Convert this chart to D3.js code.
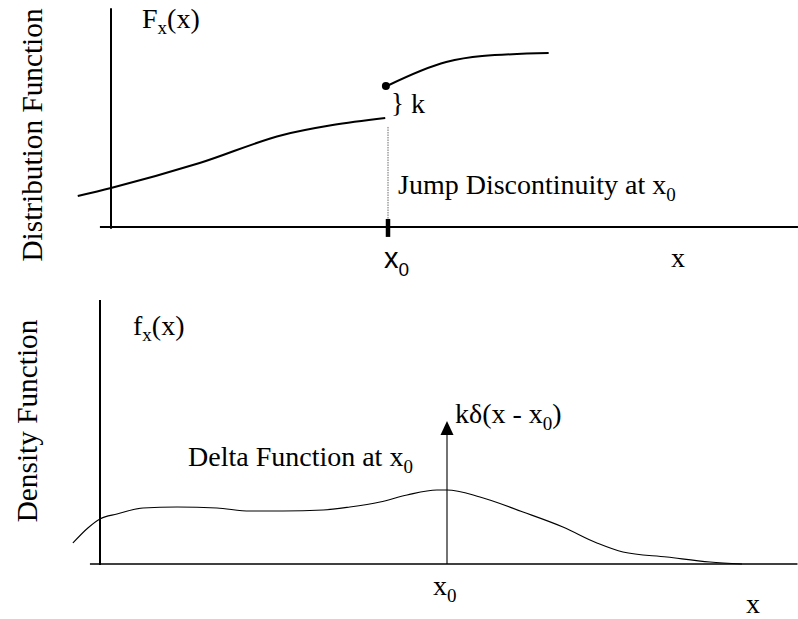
<!DOCTYPE html>
<html>
<head>
<meta charset="utf-8">
<script src="https://cdn.jsdelivr.net/npm/d3@7"></script>
<style>
  html, body { margin: 0; padding: 0; background: #fff; }
  svg { display: block; }
</style>
</head>
<body>
<svg id="chart" width="798" height="619"></svg>
<script>
// ---- Distribution function F_x(x): continuous part below and above the jump at x0 ----
const x0 = 10;
const cdfLowerX = [-1.2, 0, 3.2, 6.2, 8.0, 9.9];
const cdfLowerY = [0.166, 0.209, 0.342, 0.492, 0.545, 0.583];
const cdfUpperX = [9.96, 12.1, 13.4, 15.8];
const cdfUpperY = [0.754, 0.882, 0.914, 0.930];

// ---- Density function f_x(x): continuous part plus a delta of weight k at x0 ----
const pdfX = [-0.78, -0.35, 0, 0.49, 1.24, 2.22, 3.37, 4.32, 5.27, 6.43, 7.2, 8.07, 8.85, 9.71, 10, 10.95, 12.19, 13.34, 14.32, 15.07, 16.34, 17.58, 18.5];
const pdfY = [0.105, 0.18, 0.225, 0.25, 0.28, 0.285, 0.28, 0.265, 0.265, 0.27, 0.285, 0.31, 0.345, 0.37, 0.37, 0.335, 0.26, 0.185, 0.105, 0.06, 0.035, 0.01, 0];
const deltaHeight = 0.715;

// ---- Text ----
const topYLabel = "Distribution Function";
const botYLabel = "Density Function";
const jumpLabel = "Jump Discontinuity at x";
const deltaLabel = "Delta Function at x";

const SERIF = "'Liberation Serif', 'Times New Roman', Times, serif";
const SANS = "'Liberation Sans', Arial, Helvetica, sans-serif";

const svg = d3.select("#chart");

function serifText(g, x, y, size) {
  return g.append("text").attr("x", x).attr("y", y)
    .style("font-family", SERIF).attr("font-size", size).attr("fill", "#000");
}

// Scales for the upper panel
const xT = d3.scaleLinear().domain([0, x0]).range([111, 388]);
const yT = d3.scaleLinear().domain([0, 1]).range([227, 40]);
// Scales for the lower panel
const xB = d3.scaleLinear().domain([0, x0]).range([100, 447]);
const yB = d3.scaleLinear().domain([0, 1]).range([564, 364]);

// ===================== Upper panel =====================
const gT = svg.append("g");

// axes
gT.append("line")
  .attr("x1", xT(0)).attr("x2", xT(0))
  .attr("y1", yT(1.17)).attr("y2", yT(-0.01))
  .attr("stroke", "#000").attr("stroke-width", 2);
gT.append("line")
  .attr("x1", xT(-0.4)).attr("x2", xT(24.8))
  .attr("y1", yT(0)).attr("y2", yT(0))
  .attr("stroke", "#000").attr("stroke-width", 2);

// dotted guide from the jump down to the axis
gT.append("line")
  .attr("x1", xT(x0)).attr("x2", xT(x0))
  .attr("y1", yT(0.535)).attr("y2", yT(0.04))
  .attr("stroke", "#444").attr("stroke-width", 0.8)
  .attr("stroke-dasharray", "1.5,1");

// thick tick at x0
gT.append("line")
  .attr("x1", xT(x0)).attr("x2", xT(x0))
  .attr("y1", yT(0.043)).attr("y2", yT(-0.053))
  .attr("stroke", "#000").attr("stroke-width", 4.5);

const lineT = d3.line().x(d => xT(d[0])).y(d => yT(d[1])).curve(d3.curveMonotoneX);
gT.append("path")
  .datum(d3.zip(cdfLowerX, cdfLowerY))
  .attr("d", lineT).attr("fill", "none").attr("stroke", "#000").attr("stroke-width", 2);
gT.append("path")
  .datum(d3.zip(cdfUpperX, cdfUpperY))
  .attr("d", lineT).attr("fill", "none").attr("stroke", "#000").attr("stroke-width", 2);
gT.append("circle")
  .attr("cx", xT(cdfUpperX[0]) - 1).attr("cy", yT(cdfUpperY[0]))
  .attr("r", 4).attr("fill", "#000");

// brace marking the jump size k
serifText(gT, xT(x0) + 3, 112, 27).text("}");
serifText(gT, 411, 113, 28).text("k");

// F_x(x)
const fT = serifText(gT, 142, 28, 28);
fT.append("tspan").text("F");
fT.append("tspan").attr("font-size", 19).attr("dy", 6).text("x");
fT.append("tspan").attr("dy", -6).text("(x)");

// jump label
const jT = serifText(gT, 398, 194, 28);
jT.append("tspan").text(jumpLabel);
jT.append("tspan").attr("font-size", 19).attr("dy", 7).text("0");

// x0 under the tick (sans)
const xl = gT.append("text").attr("x", 384).attr("y", 268)
  .style("font-family", SANS).attr("font-size", 29).attr("fill", "#000");
xl.append("tspan").text("x");
xl.append("tspan").attr("font-size", 19).attr("dy", 8).text("0");

serifText(gT, 671, 267, 28).text("x");

gT.append("text")
  .attr("transform", "translate(42,135) rotate(-90)")
  .style("font-family", SERIF).attr("fill", "#000")
  .attr("text-anchor", "middle").attr("font-size", 29.3).text(topYLabel);

// ===================== Lower panel =====================
const gB = svg.append("g");

gB.append("line")
  .attr("x1", xB(0)).attr("x2", xB(0))
  .attr("y1", yB(1.32)).attr("y2", yB(-0.005))
  .attr("stroke", "#000").attr("stroke-width", 2);
gB.append("line")
  .attr("x1", xB(-0.29)).attr("x2", xB(20.1))
  .attr("y1", yB(0)).attr("y2", yB(0))
  .attr("stroke", "#000").attr("stroke-width", 1.6);

const lineB = d3.line().x(d => xB(d[0])).y(d => yB(d[1])).curve(d3.curveMonotoneX);
gB.append("path")
  .datum(d3.zip(pdfX, pdfY))
  .attr("d", lineB).attr("fill", "none").attr("stroke", "#000").attr("stroke-width", 1.1);

// delta arrow at x0
const tipY = yB(deltaHeight);
gB.append("line")
  .attr("x1", xB(x0)).attr("x2", xB(x0))
  .attr("y1", yB(0)).attr("y2", tipY + 10)
  .attr("stroke", "#000").attr("stroke-width", 1.1);
gB.append("path")
  .attr("d", `M${xB(x0)},${tipY} L${xB(x0) - 6.5},${tipY + 14} L${xB(x0) + 6.5},${tipY + 14} Z`)
  .attr("fill", "#000");

const kd = serifText(gB, 455, 423, 28);
kd.append("tspan").text("kδ(x - x");
kd.append("tspan").attr("font-size", 19).attr("dy", 7).text("0");
kd.append("tspan").attr("dy", -7).text(")");

const dl = serifText(gB, 188, 466, 28);
dl.append("tspan").text(deltaLabel);
dl.append("tspan").attr("font-size", 19).attr("dy", 7).text("0");

const fB = serifText(gB, 133, 335, 28);
fB.append("tspan").text("f");
fB.append("tspan").attr("font-size", 19).attr("dy", 6).text("x");
fB.append("tspan").attr("dy", -6).text("(x)");

const xb = serifText(gB, 433, 595, 28);
xb.append("tspan").text("x");
xb.append("tspan").attr("font-size", 19).attr("dy", 7).text("0");

serifText(gB, 746, 613, 28).text("x");

gB.append("text")
  .attr("transform", "translate(37,421) rotate(-90)")
  .style("font-family", SERIF).attr("fill", "#000")
  .attr("text-anchor", "middle").attr("font-size", 29.3).text(botYLabel);
</script>
</body>
</html>
